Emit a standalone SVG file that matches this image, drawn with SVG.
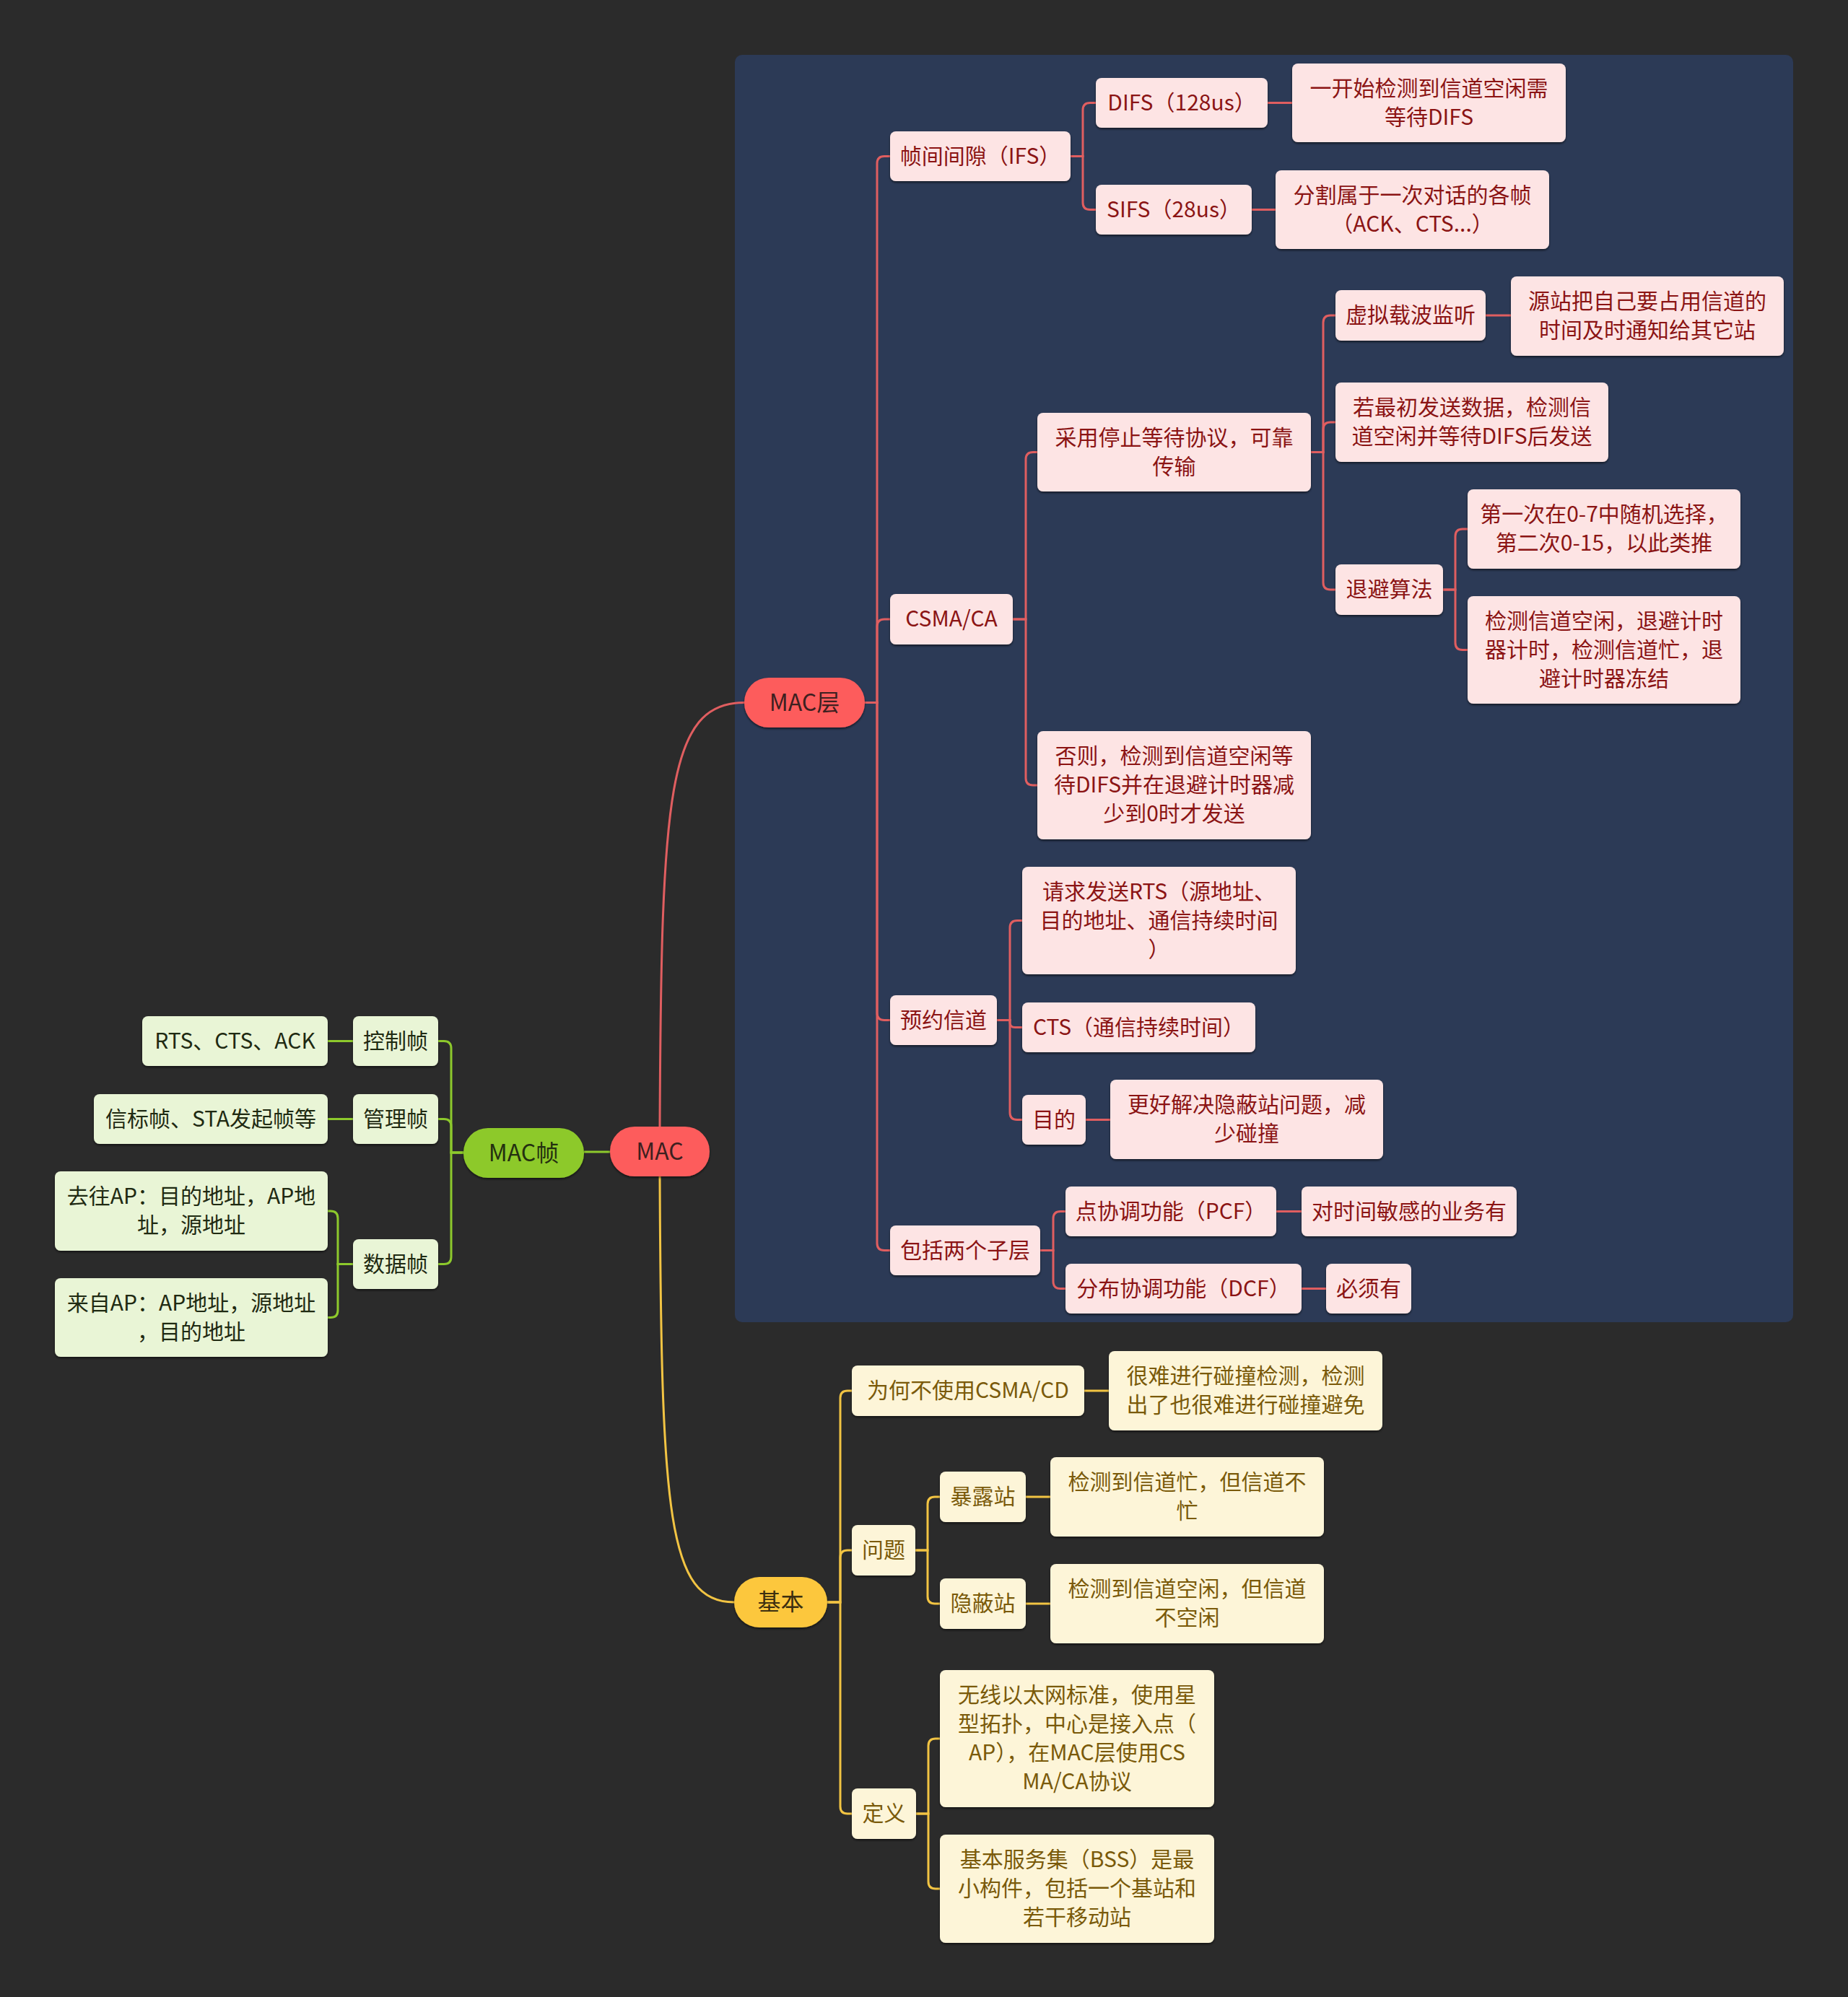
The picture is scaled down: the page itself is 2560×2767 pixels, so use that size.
<svg xmlns="http://www.w3.org/2000/svg" width="2560" height="2767" viewBox="0 0 2560 2767">
<defs>
<filter id="sh" x="-10%" y="-10%" width="120%" height="130%"><feDropShadow dx="0" dy="2" stdDeviation="1.5" flood-color="#000" flood-opacity="0.55"/></filter>
<style>
text{font-family:"Noto Sans CJK SC","Noto Sans",sans-serif;font-size:30px;text-anchor:middle;dominant-baseline:central;transform:translateY(-3px)}
.pk rect{fill:#fde4e4;filter:url(#sh)}
.pk text{fill:#8b1414}
.gr rect{fill:#e9f5d6;filter:url(#sh)}
.gr text{fill:#1f2a12}
.ye rect{fill:#fdf5d8;filter:url(#sh)}
.ye text{fill:#7a5a0a}
.root rect{filter:url(#sh)}
.root text{font-size:32px}
.cr{fill:none;stroke:#e05e60;stroke-width:3}
.cg{fill:none;stroke:#8dc92c;stroke-width:3}
.cy{fill:none;stroke:#f2c443;stroke-width:3}
</style>
</defs>
<rect x="0" y="0" width="2560" height="2767" fill="#2b2b2b"/>
<rect x="1018" y="76" width="1466" height="1756" rx="10" fill="#2c3a56"/>

<g id="connectors">
<path class="cr" d="M914 1561 C916 1100 925 973.5 1031 973.5"/>
<path class="cr" d="M1198 973.5 H1215 V226.5 Q1215 216.5 1225 216.5 H1233"/>
<path class="cr" d="M1198 973.5 H1215 V868 Q1215 858 1225 858 H1233"/>
<path class="cr" d="M1198 973.5 H1215 V1403.5 Q1215 1413.5 1225 1413.5 H1233"/>
<path class="cr" d="M1198 973.5 H1215 V1722.5 Q1215 1732.5 1225 1732.5 H1233"/>
<path class="cr" d="M1483 216.5 H1500 V152.5 Q1500 142.5 1510 142.5 H1518"/>
<path class="cr" d="M1483 216.5 H1500 V280.5 Q1500 290.5 1510 290.5 H1518"/>
<path class="cr" d="M1756 142.5 H1790"/>
<path class="cr" d="M1734 290.5 H1767"/>
<path class="cr" d="M1403 858 H1421 V636.5 Q1421 626.5 1431 626.5 H1437"/>
<path class="cr" d="M1403 858 H1421 V1078 Q1421 1088 1431 1088 H1437"/>
<path class="cr" d="M1816 626.5 H1833 V447 Q1833 437 1843 437 H1850"/>
<path class="cr" d="M1816 626.5 H1833 V595 Q1833 585 1843 585 H1850"/>
<path class="cr" d="M1816 626.5 H1833 V807 Q1833 817 1843 817 H1850"/>
<path class="cr" d="M2058 437 H2093"/>
<path class="cr" d="M1999 817 H2016 V743 Q2016 733 2026 733 H2033"/>
<path class="cr" d="M1999 817 H2016 V890.5 Q2016 900.5 2026 900.5 H2033"/>
<path class="cr" d="M1381 1413.5 H1399 V1285.5 Q1399 1275.5 1409 1275.5 H1416"/>
<path class="cr" d="M1381 1413.5 H1399 V1417 Q1399 1423.5 1406 1423.5 H1416"/>
<path class="cr" d="M1381 1413.5 H1399 V1541.5 Q1399 1551.5 1409 1551.5 H1416"/>
<path class="cr" d="M1504 1551.5 H1538"/>
<path class="cr" d="M1441 1732.5 H1459 V1688.5 Q1459 1678.5 1469 1678.5 H1476"/>
<path class="cr" d="M1441 1732.5 H1459 V1775.5 Q1459 1785.5 1469 1785.5 H1476"/>
<path class="cr" d="M1768 1678.5 H1803"/>
<path class="cr" d="M1803 1785.5 H1837"/>

<path class="cy" d="M914 1630 C916 2100 925 2220 1017 2220"/>
<path class="cy" d="M1146 2220 H1164 V1937 Q1164 1927 1174 1927 H1180"/>
<path class="cy" d="M1146 2220 H1164 V2158 Q1164 2148 1174 2148 H1180"/>
<path class="cy" d="M1146 2220 H1164 V2503 Q1164 2513 1174 2513 H1180"/>
<path class="cy" d="M1502 1927 H1536"/>
<path class="cy" d="M1268 2148 H1285 V2084 Q1285 2074 1295 2074 H1302"/>
<path class="cy" d="M1268 2148 H1285 V2212 Q1285 2222 1295 2222 H1302"/>
<path class="cy" d="M1421 2074 H1455"/>
<path class="cy" d="M1421 2222 H1455"/>
<path class="cy" d="M1269 2513 H1286 V2419 Q1286 2409 1296 2409 H1302"/>
<path class="cy" d="M1269 2513 H1286 V2607 Q1286 2617 1296 2617 H1302"/>

<path class="cg" d="M845 1596 H809"/>
<path class="cg" d="M642 1597 H625 V1452.5 Q625 1442.5 615 1442.5 H607"/>
<path class="cg" d="M642 1597 H625 V1560.5 Q625 1550.5 615 1550.5 H607"/>
<path class="cg" d="M642 1597 H625 V1741.5 Q625 1751.5 615 1751.5 H607"/>
<path class="cg" d="M489 1442.5 H454"/>
<path class="cg" d="M489 1550.5 H454"/>
<path class="cg" d="M489 1751.5 H468 V1688 Q468 1678 458 1678 H454"/>
<path class="cg" d="M489 1751.5 H468 V1815.5 Q468 1825.5 458 1825.5 H454"/>
</g>

<g id="n-mac" class="root"><rect x="845" y="1561" width="138" height="69" rx="34" fill="#fd5c5c"/><text x="914" y="1595.5" fill="#3d2020">MAC</text></g>
<g id="n-macframe" class="root"><rect x="642" y="1563" width="167" height="69" rx="34" fill="#8dc92c"/><text x="725.5" y="1597.5" fill="#243010">MAC帧</text></g>
<g id="n-maclayer" class="root"><rect x="1031" y="939" width="167" height="69" rx="34" fill="#fd5c5c"/><text x="1114.5" y="973.5" fill="#3d2020">MAC层</text></g>
<g id="n-basic" class="root"><rect x="1017" y="2185" width="129" height="70" rx="35" fill="#fcc73e"/><text x="1081.5" y="2220" fill="#3d2f10">基本</text></g>

<g id="n-ctrl" class="gr"><rect x="489" y="1408" width="118" height="69" rx="8"/><text x="548" y="1442.5">控制帧</text></g>
<g id="n-ctrl-d" class="gr"><rect x="197" y="1408" width="257" height="69" rx="8"/><text x="325.5" y="1442.5">RTS、CTS、ACK</text></g>
<g id="n-mgmt" class="gr"><rect x="489" y="1516" width="118" height="69" rx="8"/><text x="548" y="1550.5">管理帧</text></g>
<g id="n-mgmt-d" class="gr"><rect x="130" y="1516" width="324" height="69" rx="8"/><text x="292" y="1550.5">信标帧、STA发起帧等</text></g>
<g id="n-data" class="gr"><rect x="489" y="1717" width="118" height="69" rx="8"/><text x="548" y="1751.5">数据帧</text></g>
<g id="n-toap" class="gr"><rect x="76" y="1623" width="378" height="110" rx="8"/><text><tspan x="265" y="1658">去往AP：目的地址，AP地</tspan><tspan x="265" y="1698">址，源地址</tspan></text></g>
<g id="n-fromap" class="gr"><rect x="76" y="1771" width="378" height="109" rx="8"/><text><tspan x="265" y="1805.5">来自AP：AP地址，源地址</tspan><tspan x="265" y="1845.5">，目的地址</tspan></text></g>

<g id="n-ifs" class="pk"><rect x="1233" y="182" width="250" height="69" rx="8"/><text x="1358" y="216.5">帧间间隙（IFS）</text></g>
<g id="n-difs" class="pk"><rect x="1518" y="108" width="238" height="69" rx="8"/><text x="1637" y="142.5">DIFS（128us）</text></g>
<g id="n-difs-d" class="pk"><rect x="1790" y="88" width="379" height="109" rx="8"/><text><tspan x="1979.5" y="122.5">一开始检测到信道空闲需</tspan><tspan x="1979.5" y="162.5">等待DIFS</tspan></text></g>
<g id="n-sifs" class="pk"><rect x="1518" y="256" width="216" height="69" rx="8"/><text x="1626" y="290.5">SIFS（28us）</text></g>
<g id="n-sifs-d" class="pk"><rect x="1767" y="236" width="379" height="109" rx="8"/><text><tspan x="1956.5" y="270.5">分割属于一次对话的各帧</tspan><tspan x="1956.5" y="310.5">（ACK、CTS...）</tspan></text></g>
<g id="n-csma" class="pk"><rect x="1233" y="823" width="170" height="70" rx="8"/><text x="1318" y="858">CSMA/CA</text></g>
<g id="n-stopwait" class="pk"><rect x="1437" y="572" width="379" height="109" rx="8"/><text><tspan x="1626.5" y="606.5">采用停止等待协议，可靠</tspan><tspan x="1626.5" y="646.5">传输</tspan></text></g>
<g id="n-vcs" class="pk"><rect x="1850" y="402" width="208" height="70" rx="8"/><text x="1954" y="437">虚拟载波监听</text></g>
<g id="n-vcs-d" class="pk"><rect x="2093" y="383" width="378" height="110" rx="8"/><text><tspan x="2282" y="418">源站把自己要占用信道的</tspan><tspan x="2282" y="458">时间及时通知给其它站</tspan></text></g>
<g id="n-first" class="pk"><rect x="1850" y="530" width="378" height="110" rx="8"/><text><tspan x="2039" y="565">若最初发送数据，检测信</tspan><tspan x="2039" y="605">道空闲并等待DIFS后发送</tspan></text></g>
<g id="n-backoff" class="pk"><rect x="1850" y="782" width="149" height="70" rx="8"/><text x="1924.5" y="817">退避算法</text></g>
<g id="n-bo1" class="pk"><rect x="2033" y="678" width="378" height="110" rx="8"/><text><tspan x="2222" y="713">第一次在0-7中随机选择，</tspan><tspan x="2222" y="753">第二次0-15，以此类推</tspan></text></g>
<g id="n-bo2" class="pk"><rect x="2033" y="826" width="378" height="149" rx="8"/><text><tspan x="2222" y="860.5">检测信道空闲，退避计时</tspan><tspan x="2222" y="900.5">器计时，检测信道忙，退</tspan><tspan x="2222" y="940.5">避计时器冻结</tspan></text></g>
<g id="n-otherwise" class="pk"><rect x="1437" y="1013" width="379" height="150" rx="8"/><text><tspan x="1626.5" y="1048">否则，检测到信道空闲等</tspan><tspan x="1626.5" y="1088">待DIFS并在退避计时器减</tspan><tspan x="1626.5" y="1128">少到0时才发送</tspan></text></g>
<g id="n-reserve" class="pk"><rect x="1233" y="1379" width="148" height="69" rx="8"/><text x="1307" y="1413.5">预约信道</text></g>
<g id="n-rts" class="pk"><rect x="1416" y="1201" width="379" height="149" rx="8"/><text><tspan x="1605.5" y="1235.5">请求发送RTS（源地址、</tspan><tspan x="1605.5" y="1275.5">目的地址、通信持续时间</tspan><tspan x="1605.5" y="1315.5">）</tspan></text></g>
<g id="n-cts" class="pk"><rect x="1416" y="1389" width="323" height="69" rx="8"/><text x="1577.5" y="1423.5">CTS（通信持续时间）</text></g>
<g id="n-purpose" class="pk"><rect x="1416" y="1517" width="88" height="69" rx="8"/><text x="1460" y="1551.5">目的</text></g>
<g id="n-purpose-d" class="pk"><rect x="1538" y="1496" width="378" height="110" rx="8"/><text><tspan x="1727" y="1531">更好解决隐蔽站问题，减</tspan><tspan x="1727" y="1571">少碰撞</tspan></text></g>
<g id="n-sublayers" class="pk"><rect x="1233" y="1698" width="208" height="69" rx="8"/><text x="1337" y="1732.5">包括两个子层</text></g>
<g id="n-pcf" class="pk"><rect x="1476" y="1644" width="292" height="69" rx="8"/><text x="1622" y="1678.5">点协调功能（PCF）</text></g>
<g id="n-pcf-d" class="pk"><rect x="1803" y="1644" width="298" height="69" rx="8"/><text x="1952" y="1678.5">对时间敏感的业务有</text></g>
<g id="n-dcf" class="pk"><rect x="1476" y="1751" width="327" height="69" rx="8"/><text x="1639.5" y="1785.5">分布协调功能（DCF）</text></g>
<g id="n-dcf-d" class="pk"><rect x="1837" y="1751" width="118" height="69" rx="8"/><text x="1896" y="1785.5">必须有</text></g>

<g id="n-why" class="ye"><rect x="1180" y="1892" width="322" height="70" rx="8"/><text x="1341" y="1927">为何不使用CSMA/CD</text></g>
<g id="n-why-d" class="ye"><rect x="1536" y="1872" width="379" height="110" rx="8"/><text><tspan x="1725.5" y="1907">很难进行碰撞检测，检测</tspan><tspan x="1725.5" y="1947">出了也很难进行碰撞避免</tspan></text></g>
<g id="n-problem" class="ye"><rect x="1180" y="2113" width="88" height="70" rx="8"/><text x="1224" y="2148">问题</text></g>
<g id="n-exposed" class="ye"><rect x="1302" y="2039" width="119" height="70" rx="8"/><text x="1361.5" y="2074">暴露站</text></g>
<g id="n-exposed-d" class="ye"><rect x="1455" y="2019" width="379" height="110" rx="8"/><text><tspan x="1644.5" y="2054">检测到信道忙，但信道不</tspan><tspan x="1644.5" y="2094">忙</tspan></text></g>
<g id="n-hidden" class="ye"><rect x="1302" y="2187" width="119" height="70" rx="8"/><text x="1361.5" y="2222">隐蔽站</text></g>
<g id="n-hidden-d" class="ye"><rect x="1455" y="2167" width="379" height="110" rx="8"/><text><tspan x="1644.5" y="2202">检测到信道空闲，但信道</tspan><tspan x="1644.5" y="2242">不空闲</tspan></text></g>
<g id="n-def" class="ye"><rect x="1180" y="2478" width="89" height="70" rx="8"/><text x="1224.5" y="2513">定义</text></g>
<g id="n-wlan" class="ye"><rect x="1302" y="2314" width="380" height="190" rx="8"/><text><tspan x="1492" y="2349">无线以太网标准，使用星</tspan><tspan x="1492" y="2389">型拓扑，中心是接入点（</tspan><tspan x="1492" y="2429">AP），在MAC层使用CS</tspan><tspan x="1492" y="2469">MA/CA协议</tspan></text></g>
<g id="n-bss" class="ye"><rect x="1302" y="2542" width="380" height="150" rx="8"/><text><tspan x="1492" y="2577">基本服务集（BSS）是最</tspan><tspan x="1492" y="2617">小构件，包括一个基站和</tspan><tspan x="1492" y="2657">若干移动站</tspan></text></g>
</svg>
